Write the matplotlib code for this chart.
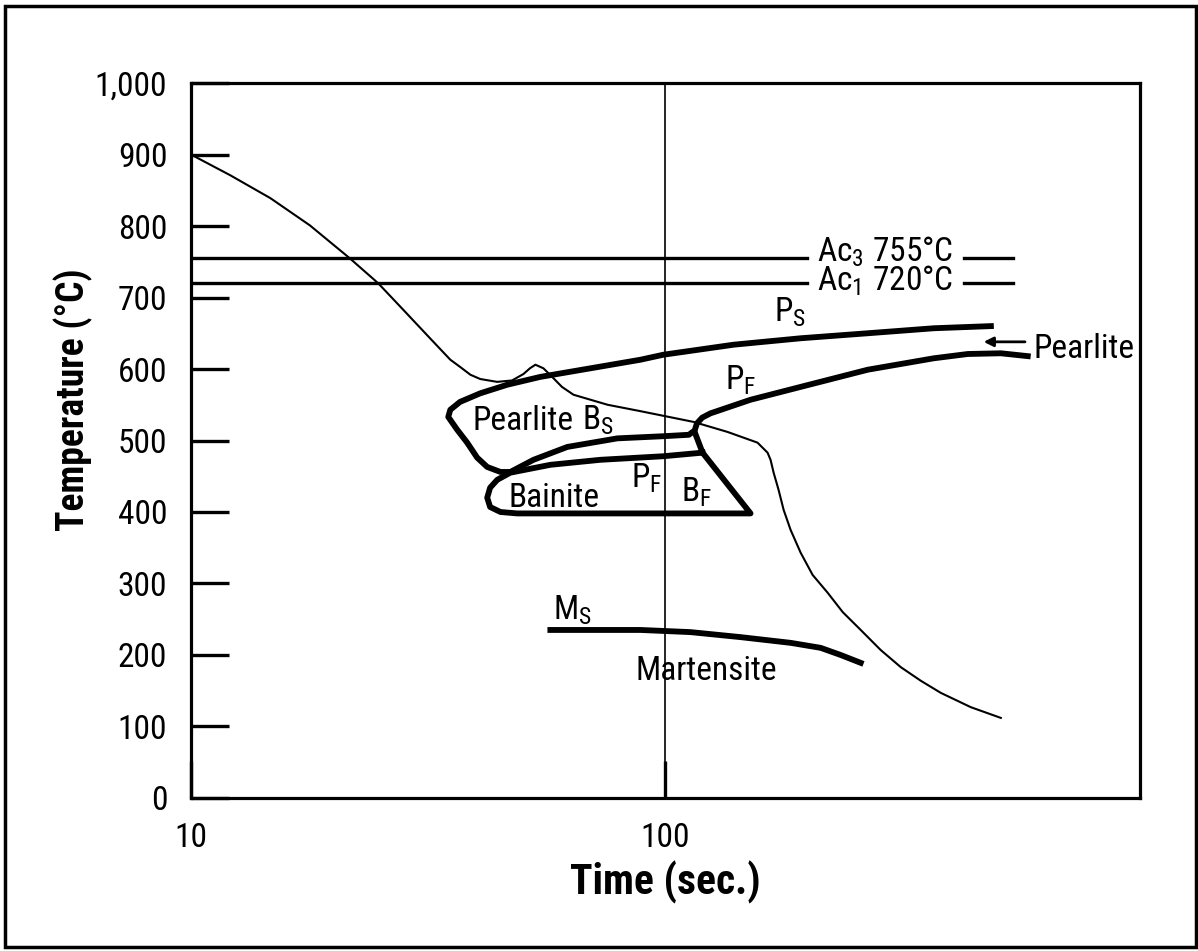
import numpy as np
import matplotlib.pyplot as plt
import matplotlib.font_manager as fm
from matplotlib.patches import Rectangle

# pick a narrow sans font if one is installed
names = {f.name for f in fm.fontManager.ttflist}
stretch = 'normal'
family = 'Liberation Sans'
for cand in ['Liberation Sans Narrow', 'Roboto Condensed', 'Open Sans Condensed',
             'Noto Sans Condensed', 'DejaVu Sans Condensed']:
    if cand in names:
        family = cand
        break
else:
    if any(f.name == 'DejaVu Sans' and f.stretch == 'condensed' for f in fm.fontManager.ttflist):
        family, stretch = 'DejaVu Sans', 'condensed'

plt.rcParams['font.family'] = [family, 'DejaVu Sans']
plt.rcParams['font.stretch'] = stretch
plt.rcParams['mathtext.default'] = 'regular'

# cooling curve (thin line)
cool_t = [10, 12.1, 14.7, 17.8, 21.6, 24.8, 28.0, 31.9, 35.2, 36.9, 38.8, 40.7, 44.2,
          47.5, 50.2, 51.8, 53.2, 55.3, 57.5, 60.5, 64.0, 75.5, 88.6, 114.6, 135.1,
          156.3, 164.1, 166.5, 169.0, 173.1, 177.4, 183.5, 192.7, 204.2, 219.7, 236.3,
          257.9, 284.1, 313.2, 345.1, 380.4, 440, 509]
cool_T = [900, 871, 839, 801, 755, 720, 683, 643, 613, 603, 592, 586, 582,
          584, 593, 601, 606, 601, 590, 575, 564, 550, 541, 526, 512,
          497, 483, 473, 455, 431, 403, 375, 343, 312, 287, 260,
          235, 207, 183, 164, 147, 127, 112]

# pearlite start / bainite start / pearlite finish (one thick path)
pearl_t = [485.0, 367.6, 266.8, 192.7, 139.2, 99.0, 88.6, 69.5, 54.5, 46.4, 40.7, 36.9,
           35.2, 34.85, 36.4, 38.2, 40.1, 42.1, 44.9, 47.1, 52.7, 62.1, 79.2, 99.0,
           112.0, 115.2, 116.5, 119.5, 124.4, 151.1, 192.7, 266.8, 367.6, 433.6, 509, 580]
pearl_T = [660, 657, 650, 643, 634, 620, 613, 601, 589, 578, 566, 554,
           543, 533, 515, 497, 476, 463, 456, 456, 473, 491, 503, 506,
           508, 514, 524, 532, 538, 557, 575, 599, 615, 621, 622, 618]

# bainite region outline
bain_t = [115.2, 119.7, 151.1, 48.7, 44.9, 42.7, 42.1, 42.7, 44.2, 47.1, 57.2, 72.9, 99.0, 119.7]
bain_T = [512, 483, 398, 398, 400, 407, 420, 434, 445, 455, 466, 473, 478, 483]

# martensite start
ms_t = [57.2, 72.9, 88.6, 112.9, 143.9, 183.5, 212.3, 234.0, 257.9]
ms_T = [235, 235, 235, 232, 225, 217, 210, 200, 189]

ac3, ac1 = 755, 720
yticks = [0, 100, 200, 300, 400, 500, 600, 700, 800, 900, 1000]
ylabels = ['0', '100', '200', '300', '400', '500', '600', '700', '800', '900', '1,000']

fig = plt.figure(figsize=(11.98, 9.51), dpi=100)
ax = fig.add_axes([0.1594, 0.1609, 0.7922, 0.7518])

ax.plot(cool_t, cool_T, color='black', lw=1.5)
ax.plot(pearl_t, pearl_T, color='black', lw=4.2, solid_joinstyle='round')
ax.plot(bain_t, bain_T, color='black', lw=4.2, solid_joinstyle='round')
ax.plot(ms_t, ms_T, color='black', lw=4.2)
ax.axvline(100, color='black', lw=1.2)

# Ac lines
ax.plot([10, 199], [ac3, ac3], color='black', lw=2.4)
ax.plot([10, 199], [ac1, ac1], color='black', lw=2.4)
ax.plot([425, 540], [ac3, ac3], color='black', lw=2.4)
ax.plot([425, 540], [ac1, ac1], color='black', lw=2.4)

fs = 24
ax.text(209, 750, r'Ac$_3$ 755°C', fontsize=fs, va='baseline')
ax.text(209, 709, r'Ac$_1$ 720°C', fontsize=fs, va='baseline')
ax.text(169, 666, r'P$_S$', fontsize=fs, va='baseline')
ax.text(133.8, 571, r'P$_F$', fontsize=fs, va='baseline')
ax.text(39.2, 515, 'Pearlite', fontsize=fs, va='baseline')
ax.text(66.8, 515, r'B$_S$', fontsize=fs, va='baseline')
ax.text(46.6, 407, 'Bainite', fontsize=fs, va='baseline')
ax.text(84.4, 434, r'P$_F$', fontsize=fs, va='baseline')
ax.text(107.6, 414, r'B$_F$', fontsize=fs, va='baseline')
ax.text(58.0, 250, r'M$_S$', fontsize=fs, va='baseline')
ax.text(86.4, 165, 'Martensite', fontsize=fs, va='baseline')
ax.text(597.5, 615, 'Pearlite', fontsize=fs, va='baseline', clip_on=False)
ax.annotate('', xy=(462, 638), xytext=(580, 638),
            arrowprops=dict(arrowstyle='-|>', lw=2, color='black', mutation_scale=14))

ax.set_xscale('log')
ax.set_xlim(10, 1000)
ax.set_ylim(0, 1000)
ax.set_xticks([10, 100])
ax.set_xticklabels(['10', '100'])
ax.xaxis.set_minor_locator(plt.NullLocator())
ax.set_yticks(yticks)
ax.set_yticklabels(ylabels)
ax.tick_params(axis='y', direction='in', length=27, width=2.4, pad=17, labelsize=24)
ax.tick_params(axis='x', direction='in', length=27, width=2.4, pad=17, labelsize=24)
for s in ax.spines.values():
    s.set_linewidth(2.3)

ax.set_xlabel('Time (sec.)', fontsize=30, fontweight='bold', labelpad=5)
ax.text(-0.124, 0.557, 'Temperature (°C)', transform=ax.transAxes, fontsize=27,
        fontweight='bold', rotation=90, ha='center', va='center')

fig.patches.append(Rectangle((5 / 1198, 4 / 951), 1191 / 1198, 941 / 951,
                             transform=fig.transFigure, fill=False, lw=2.5,
                             edgecolor='black'))

fig.savefig('out.png', dpi=100)
